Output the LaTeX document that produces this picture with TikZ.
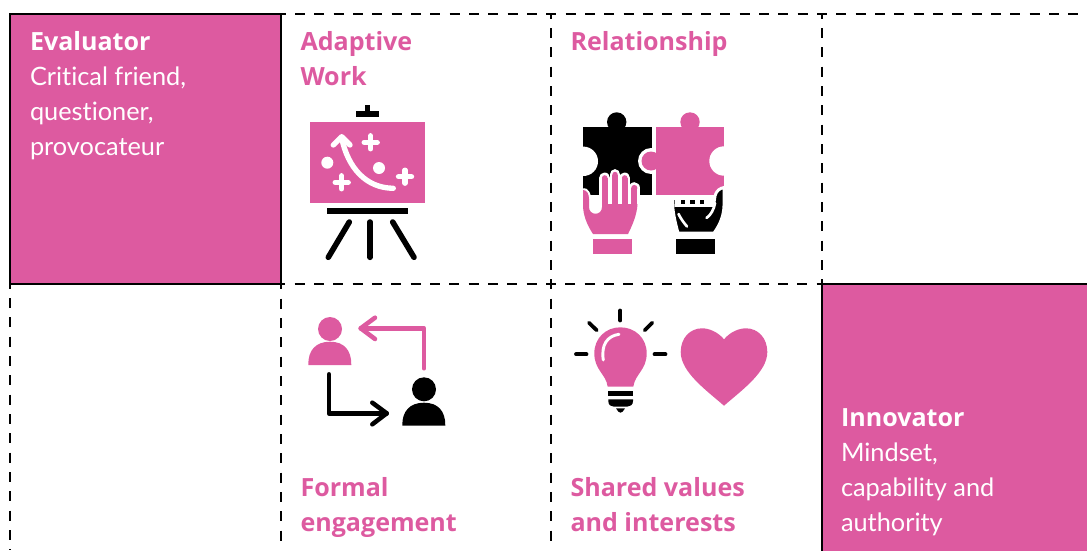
\documentclass[tikz,border=0pt]{standalone}
\usepackage{fontspec}
\setmainfont[Ligatures=NoCommon]{Lato}
\newfontfamily\headfont{Open Sans}
\definecolor{rosepink}{RGB}{221,90,160}
\tikzset{every picture/.style={line width=0.75pt}}
\tikzset{
	gridline/.style={line width=2.2pt,dash pattern={on 7.5pt off 7pt},dash phase=4pt},
	cornerbox/.style={fill=rosepink,draw=black,line width=2pt},
	boxtext/.style={anchor=north west,inner sep=0pt,align=left,text=white,font=\fontsize{19}{26.25}\selectfont},
	celltext/.style={anchor=north west,inner sep=0pt,align=left,text=rosepink,font=\fontsize{18.8}{26.25}\selectfont\headfont\bfseries},
	blackline/.style={draw=black,line width=4.2pt,line cap=round,line join=round},
	pinkline/.style={draw=rosepink,line width=3.4pt,line cap=round,line join=round},
	blackarrow/.style={draw=black,line width=3.4pt,line cap=round,line join=round},
	whiteline/.style={draw=white,line width=4pt,line cap=round},
	outlined/.style={draw=white,line width=2.2pt}
}
\newcommand{\boxhead}[1]{{\fontsize{18.8}{26.25}\selectfont\headfont\bfseries #1}}

\begin{document}
\begin{tikzpicture}[x=0.75pt,y=0.75pt,yscale=-1,xscale=1]
	\useasboundingbox (0,0) rectangle (1087,550);

	%Grid lines
	\draw [gridline] (281,14) -- (1087,14);
	\draw [gridline] (10,284) -- (822,284);
	\draw [gridline] (281,14) -- (281,550);
	\draw [gridline] (551,14) -- (551,550);
	\draw [gridline] (822,14) -- (822,284);
	\draw [gridline] (10,284) -- (10,550);
	%Corner boxes
	\draw [cornerbox] (10,14) rectangle (281,284);
	\draw [cornerbox] (822,284) rectangle (1090,553);

	% Text Node
	\node (evaluator) [boxtext] at (29.5,30.5) {\boxhead{Evaluator}\\Critical friend,\\questioner,\\provocateur};
	% Text Node
	\node (innovator) [boxtext] at (840.5,408.5) {\boxhead{Innovator}\\Mindset,\\capability and\\authority};
	% Text Node
	\node (adaptive) [celltext] at (300,30.5) {Adaptive\\Work};
	% Text Node
	\node (relationship) [celltext] at (570,30.5) {Relationship};
	% Text Node
	\node (formal) [celltext] at (300,476.5) {Formal\\engagement};
	% Text Node
	\node (shared) [celltext] at (570,476.5) {Shared values\\and interests};

	%Easel
	\fill [black] (356,110.7) rectangle (379,116.7);
	\fill [black] (365,105) rectangle (370,111);
	\fill [rosepink] (310,122.3) rectangle (425,202.7);
	\fill [black] (327,208.3) rectangle (408,214);
	\draw [blackline] (349.3,222) -- (328.3,257.3);
	\draw [blackline] (370,222) -- (370,257.3);
	\draw [blackline] (392.7,222) -- (414,257.3);
	\draw [whiteline] (393.3,188.3) .. controls (366,188) and (348,168) .. (341.7,138);
	\draw [whiteline,line join=round] (333.3,145) -- (341.7,136.7) -- (350,145);
	\foreach \px/\py in {370.7/142.3,405/176.7,341.7/182.3} {
		\draw [whiteline] (\px-6.5,\py) -- (\px+6.5,\py);
		\draw [whiteline] (\px,\py-6.5) -- (\px,\py+6.5);
	}
	\fill [white] (327.3,162.7) circle [radius=6];
	\fill [white] (379,168) circle [radius=6];

	%Puzzle
	\fill [black] (583.3,126.7) rectangle (651.7,195);
	\fill [black] (616.7,122) circle [radius=9.7];
	\fill [white] (583.3,161.3) circle [radius=14.7];
	\fill [white] (651,161) circle [radius=13];
	\fill [rosepink] (656,126.7) -- (723.5,126.7) -- (723.5,195) -- (656,195) -- cycle;
	\fill [rosepink] (690,122) circle [radius=9.7];
	\fill [rosepink] (651,161) circle [radius=9.5];
	\fill [white] (724,161) circle [radius=14.7];
	%Hand on the left
	\path [draw=white,line width=3pt] (583,190) .. controls (587,190) and (589,194) .. (589,199) -- (589,207) .. controls (589,216) and (602,216) .. (602,207) -- (602,204) -- (637.5,204);
	\foreach \fx/\fy/\fw in {604.7/178/5.6,615/174.5/5.4,624.7/178/5.6,634.3/188/6.2} {
		\draw [white,line width=\fw*0.75pt+4pt,line cap=round] (\fx,\fy) -- (\fx,204);
	}
	\fill [rosepink] (583,190) .. controls (587,190) and (589,194) .. (589,199) -- (589,207) .. controls (589,216) and (602,216) .. (602,207) -- (602,204) -- (637.5,204) .. controls (637,215) and (632,226) .. (628,234) -- (593,234) .. controls (587,225) and (583,215) .. (583,205) -- cycle;
	\foreach \fx/\fy/\fw in {604.7/178/5.6,615/174.5/5.4,624.7/178/5.6,634.3/188/6.2} {
		\draw [rosepink,line width=\fw*0.75pt] (\fx,\fy) -- (\fx,206);
		\fill [rosepink] (\fx,\fy) circle [radius=\fw/2];
	}
	\fill [rosepink] (593,239.3) rectangle (632,254);
	%Hand on the right
	\path [fill=black,outlined] (672.3,198.5) -- (676,198.5) -- (676,205.5) -- (712,205.5) .. controls (714,204) and (714.5,200) .. (715,196) .. controls (716,191) and (720,188) .. (724,187.5) -- (724,205) .. controls (724,215) and (720,225) .. (714,233) -- (678,233) .. controls (675,222) and (672.3,210) .. cycle;
	\foreach \sx in {680.7,690.3,700} {
		\fill [black] (\sx,199.7) rectangle +(4.2,4.2);
	}
	\fill [black] (676,239) rectangle (715,253.5);
	\draw [white,line width=2pt,line cap=round] (678.5,214) .. controls (681,219) and (684,223) .. (687,226.5);
	\draw [white,line width=2pt,line cap=round] (715,203) .. controls (714,209) and (711,215) .. (706.5,218);

	%People
	\coordinate (pinkstart) at (424,368.3);
	\coordinate (pinkbend) at (424,328.3);
	\coordinate (pinktip) at (360.7,328.3);
	\coordinate (blackstart) at (329,374.3);
	\coordinate (blackbend) at (329,413.3);
	\coordinate (blacktip) at (386.7,413.3);
	\fill [rosepink] (330,329) circle [radius=12];
	\fill [rosepink] (308.3,365) .. controls (308,350) and (316,341.7) .. (330,341.7) .. controls (344,341.7) and (351.5,350) .. (351.3,365) -- cycle;
	\fill [black] (424,389.3) circle [radius=12];
	\fill [black] (402.3,425.7) .. controls (402,411) and (410,402.7) .. (424,402.7) .. controls (438,402.7) and (445.5,411) .. (445.3,425.7) -- cycle;
	\draw [pinkline] (pinkstart) -- (pinkbend) -- (pinktip);
	\draw [pinkline] (375,317.7) -- (pinktip) -- (375,339);
	\draw [blackarrow] (blackstart) -- (blackbend) -- (blacktip);
	\draw [blackarrow] (372.3,402.7) -- (blacktip) -- (372.3,424.3);

	%Bulb
	\draw [blackline,line width=2.8pt] (620.3,310.5) -- (620.3,320.5);
	\draw [blackline,line width=2.8pt] (589,322.7) -- (596.7,330.3);
	\draw [blackline,line width=2.8pt] (652.3,322.7) -- (644.6,330.3);
	\draw [blackline,line width=2.8pt] (576,354.3) -- (586.5,354.3);
	\draw [blackline,line width=2.8pt] (654.5,354.3) -- (665.5,354.3);
	\fill [rosepink] (607.7,386.7) .. controls (606,374) and (594.3,370) .. (594.3,353.3) .. controls (594.3,338) and (606,327.3) .. (620.3,327.3) .. controls (635,327.3) and (646.7,338) .. (646.7,353.3) .. controls (646.7,370) and (635,374) .. (633.3,386.7) -- cycle;
	\draw [white,line width=2.2pt,line cap=round] (603.3,360) .. controls (601,345) and (607,336) .. (619,334.3);
	\fill [black] (608.3,390.7) rectangle (633,396);
	\fill [black] (608.3,399.3) -- (633,399.3) -- (633,401) .. controls (633,405) and (630,406.7) .. (627,406.7) -- (614,406.7) .. controls (611,406.7) and (608.3,405) .. (608.3,401) -- cycle;
	\fill [black] (616,408.3) -- (625,408.3) .. controls (623.5,411) and (622,412.7) .. (620.5,412.7) .. controls (619,412.7) and (617.5,411) .. (616,408.3) -- cycle;

	%Heart
	\fill [rosepink] (724,339.3) .. controls (731,331) and (740,328.3) .. (746,328.3) .. controls (758,328.3) and (767.3,338) .. (767.3,352) .. controls (767.3,372) and (742,390) .. (724,405.7) .. controls (706,390) and (680.7,372) .. (680.7,352) .. controls (680.7,338) and (690,328.3) .. (702,328.3) .. controls (708,328.3) and (717,331) .. (724,339.3) -- cycle;

\end{tikzpicture}
\end{document}
